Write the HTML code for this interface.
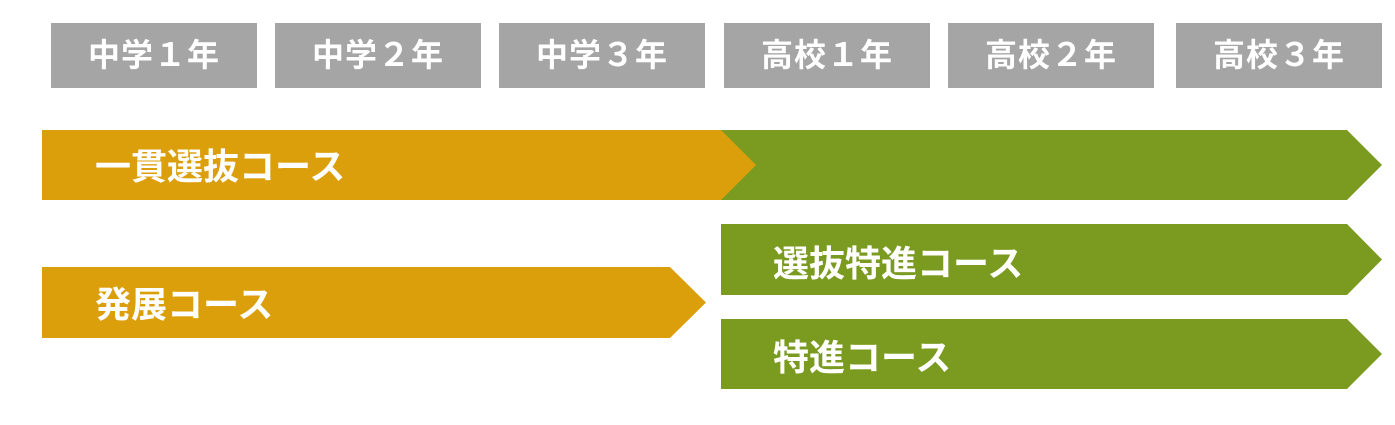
<!DOCTYPE html>
<html><head><meta charset="utf-8"><style>
body{margin:0;width:1395px;height:425px;background:#fff;position:relative;overflow:hidden;font-family:"Liberation Sans","Noto Sans CJK JP",sans-serif;}
.h{position:absolute;top:23px;height:65px;width:206px;background:#a5a5a5;color:#fff;font-weight:bold;font-size:32px;line-height:65px;text-align:center;letter-spacing:1px;}
.t{position:absolute;color:#fff;font-weight:bold;font-size:36px;line-height:36px;}
</style></head><body>
<div class="h" style="left:51px">中学１年</div>
<div class="h" style="left:275px">中学２年</div>
<div class="h" style="left:499px">中学３年</div>
<div class="h" style="left:724px">高校１年</div>
<div class="h" style="left:948px">高校２年</div>
<div class="h" style="left:1176px">高校３年</div>
<svg width="1395" height="425" style="position:absolute;left:0;top:0">
<polygon points="721,130 1347,130 1382,165 1347,200 721,200" fill="#7b9b20"/>
<polygon points="42,130 721,130 756,165 721,200 42,200" fill="#dc9f0c"/>
<polygon points="721,224 1347,224 1382,259.5 1347,295 721,295" fill="#7b9b20"/>
<polygon points="721,319 1347,319 1382,354 1347,389 721,389" fill="#7b9b20"/>
<polygon points="42,267 670,267 706,302.5 670,338 42,338" fill="#dc9f0c"/>
</svg>
<div class="t" style="left:95px;top:149px">一貫選抜コース</div>
<div class="t" style="left:95px;top:287px">発展コース</div>
<div class="t" style="left:773px;top:246px">選抜特進コース</div>
<div class="t" style="left:773px;top:340px">特進コース</div>
</body></html>
